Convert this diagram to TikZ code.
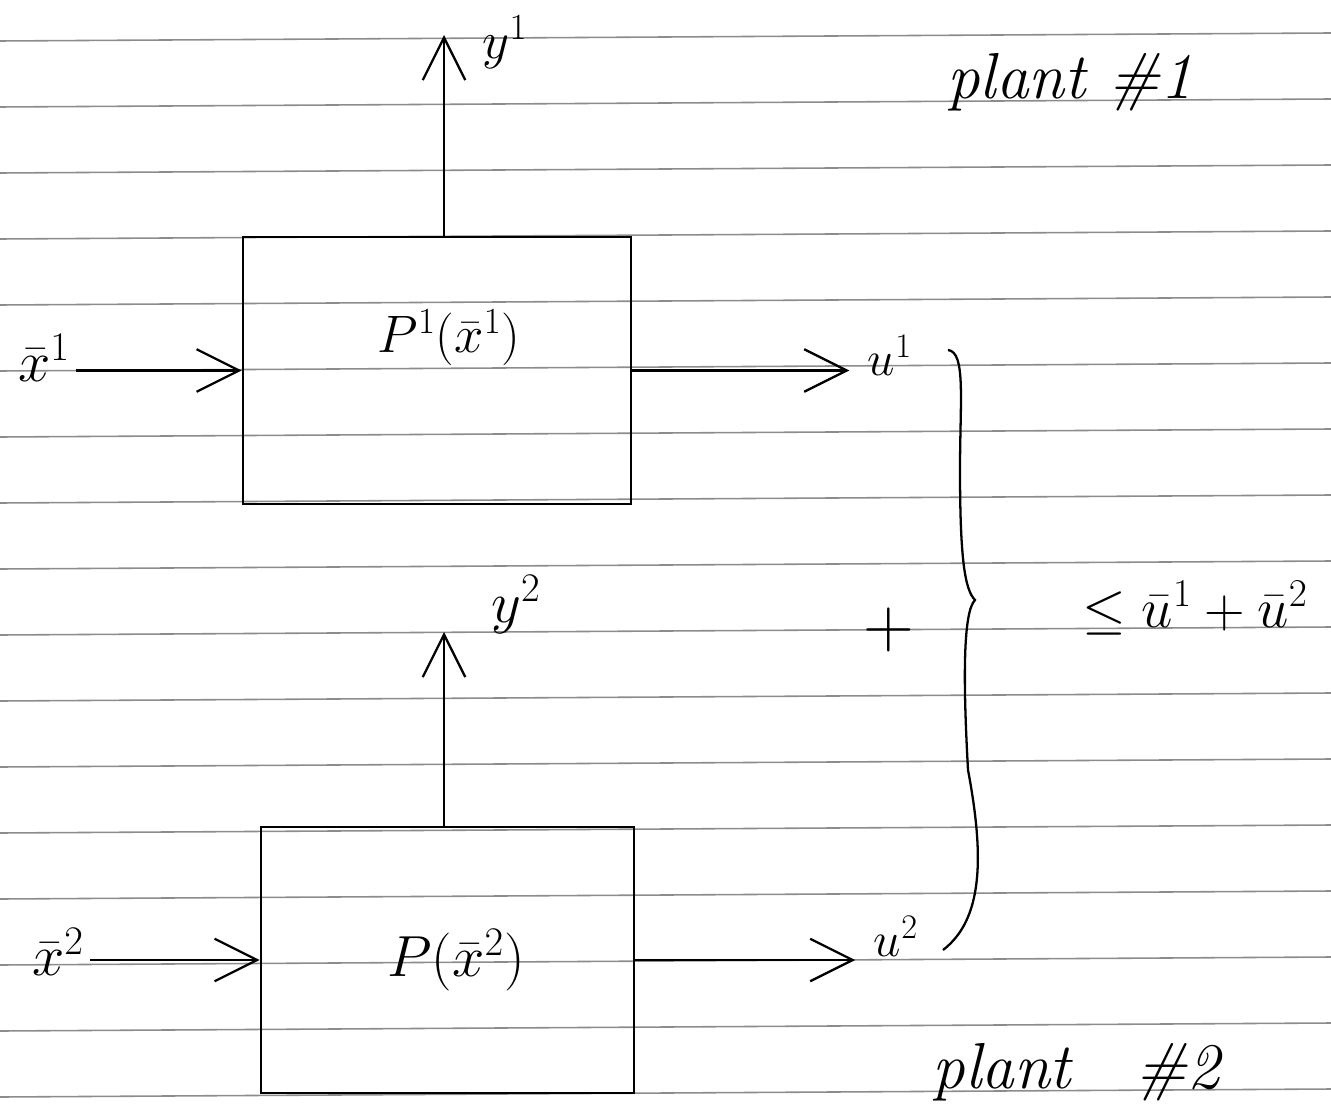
\RequirePackage{fix-cm}
\documentclass[tikz,border=0pt]{standalone}
\usepackage{amsmath}
\usepackage{tikz}
\usetikzlibrary{arrows.meta}

\begin{document}
\begin{tikzpicture}[x=0.02cm,y=-0.02cm,
  every node/.style={font=\fontsize{30}{36}\selectfont},
  ruled/.style={black!45,line width=0.9pt},
  plantbox/.style={draw,line width=1.6pt,inner sep=0pt},
  flow/.style={line width=1.3pt,-{Straight Barb[length=8.5mm,width=8.5mm,line width=1.3pt]}}]
  \useasboundingbox (0,0) rectangle (1331,1118);
  \foreach \k in {0,...,16}
    \draw[ruled] (0,41+66*\k) -- (1331,33+66*\k);
  \node[plantbox,minimum width=7.76cm,minimum height=5.34cm] (box1) at (437,370.5) {};
  \node[plantbox,minimum width=7.46cm,minimum height=5.32cm] (box2) at (447.5,960) {};
  \node (p1) at (449,338) {$P^1(\bar{x}^1)$};
  \node[font=\fontsize{33}{40}\selectfont] (p2) at (456,960) {$P(\bar{x}^2)$};
  \node[font=\fontsize{33}{40}\selectfont] (x1) at (44,358) {$\bar{x}^1$};
  \node[font=\fontsize{33}{40}\selectfont] (x2) at (58,952) {$\bar{x}^2$};
  \node[font=\fontsize{28}{34}\selectfont] (u1) at (890,355) {$u^1$};
  \node[font=\fontsize{28}{34}\selectfont] (u2) at (896,936) {$u^2$};
  \coordinate (y1top) at (444,35);
  \coordinate (y2top) at (444,632);
  \node (y1) at (505,42) {$y^1$};
  \node[font=\fontsize{33}{40}\selectfont] (y2) at (516,605) {$y^2$};
  \node[anchor=base,font=\fontsize{37}{44}\selectfont] (plant1) at (1070,99) {\textit{plant \#1}};
  \node[anchor=base,font=\fontsize{37}{44}\selectfont] (plant2) at (1078,1088) {\textit{plant\quad\#2}};
  \node[font=\fontsize{40}{48}\selectfont] (plus) at (889,630) {$+$};
  \node[anchor=base,font=\fontsize{32}{38}\selectfont] (bound) at (1195,627) {$\leq\bar{u}^1+\bar{u}^2$};
  \draw[flow] (box1.west -| x1.east) -- (box1.west);
  \draw[flow] (box2.west -| x2.east) -- (box2.west);
  \draw[flow,shorten >=0.25cm] (box1.east) -- (box1.east -| u1.west);
  \draw[flow,shorten >=0.25cm] (box2.east) -- (box2.east -| u2.west);
  \draw[flow] (box1.north -| y1top) -- (y1top);
  \draw[flow] (box2.north -| y2top) -- (y2top);
  \draw[line width=1.3pt] (948,350) .. controls (966,352) and (960,400) .. (960,470)
    .. controls (960,560) and (965,590) .. (975,600)
    .. controls (963,612) and (963,680) .. (968,770)
    .. controls (985,860) and (982,920) .. (943,950);
\end{tikzpicture}
\end{document}
